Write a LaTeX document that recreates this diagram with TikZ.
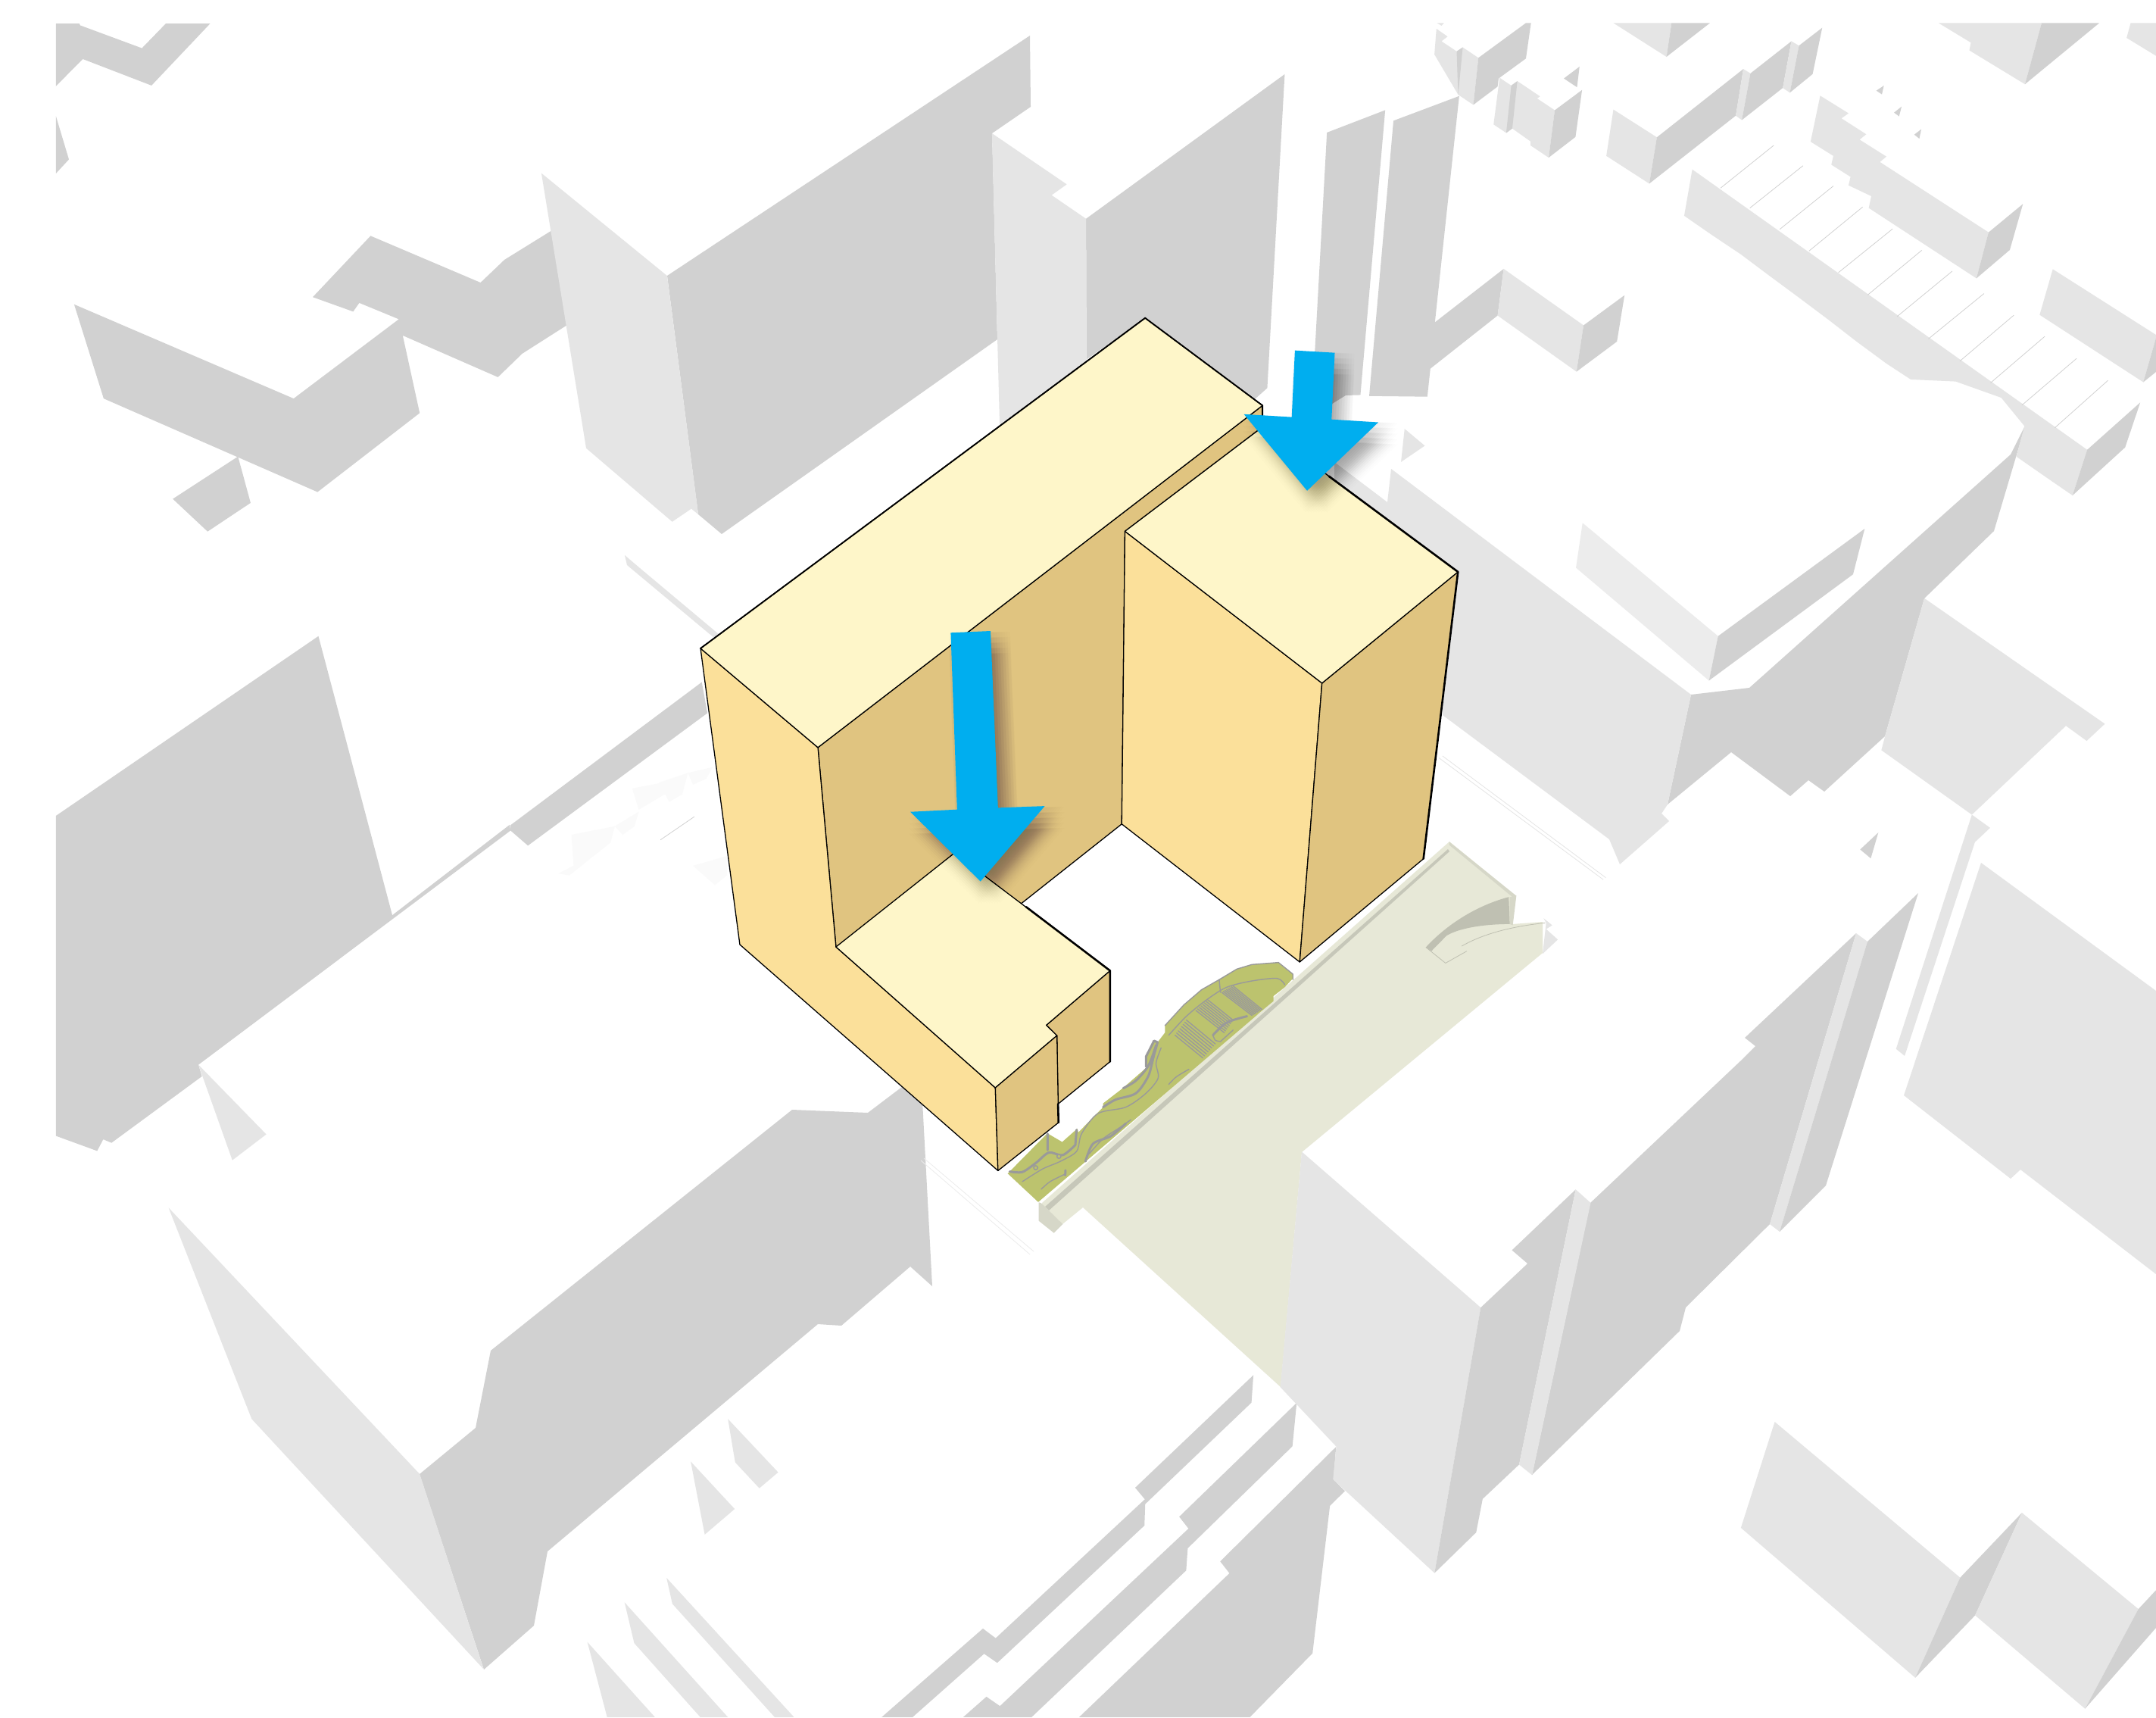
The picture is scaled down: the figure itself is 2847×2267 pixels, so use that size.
\documentclass[tikz,border=0pt]{standalone}
\definecolor{gd}{HTML}{D1D1D1}
\definecolor{gl}{HTML}{E5E5E5}
\definecolor{gll}{HTML}{ECECEC}
\definecolor{gf}{HTML}{FAFAFA}
\definecolor{roof}{HTML}{FEF6C9}
\definecolor{front}{HTML}{FBE09A}
\definecolor{side}{HTML}{E0C480}
\definecolor{plaza}{HTML}{E7E8D7}
\definecolor{pwall}{HTML}{D6D7C8}
\definecolor{pband}{HTML}{C6C7B9}
\definecolor{pcurve}{HTML}{BFC0B2}
\definecolor{green}{HTML}{BCC36E}
\definecolor{gline}{HTML}{9A9A9A}
\definecolor{arrowblue}{HTML}{00AEEF}
\tikzset{
  full/.style={x=.1mm,y=-.1mm},
  ztwo/.style={shift={(180mm,0mm)},x=.06677mm,y=-.04464mm},
  zthree/.style={shift={(6mm,0mm)},x=.05740mm,y=-.04783mm},
  zfour/.style={shift={(6mm,-75mm)},x=.05740mm,y=-.05102mm},
  zfive/.style={shift={(6mm,-150mm)},x=.06378mm,y=-.04892mm},
  zsix/.style={shift={(95mm,0mm)},x=.06059mm,y=-.05102mm},
  zseven/.style={shift={(180mm,-60mm)},x=.06677mm,y=-.05102mm},
  zeight/.style={shift={(150mm,-140mm)},x=.08591mm,y=-.05529mm},
  znine/.style={shift={(85mm,-38mm)},x=.07015mm,y=-.07653mm},
  zten/.style={shift={(130mm,-115mm)},x=.03333mm,y=-.03333mm},
  zeleven/.style={shift={(100mm,-178mm)},x=.05102mm,y=-.03333mm},
  ztwelve/.style={shift={(135mm,-150mm)},x=.03333mm,y=-.03333mm},
  bface/.style={draw=black,line width=.13mm,line join=round},
  bheavy/.style={draw=black,line width=.26mm,line join=round,line cap=round},
  gthin/.style={draw=gline,line width=.14mm,line cap=round,line join=round},
  gthick/.style={draw=gline,line width=.3mm,line cap=round,line join=round},
  fthin/.style={draw=gl,line width=.08mm},
  shad/.style={fill=black,opacity=.006},
}
\newcommand\gp[2]{\fill[#1] plot coordinates {#2} -- cycle;}
\begin{document}
\begin{tikzpicture}
\begin{scope}[full]
  \useasboundingbox (0,0) rectangle (2847,2267);
  \fill[white] (0,0) rectangle (2847,2267);
  % large pieces given in full-size coordinates
  \gp{gd}{(881,364)(1360,47)(1361,141)(1310,176)(1317,448)(953,705)(922,679)}
  \gp{gl}{(825,733)(845,750)(950,838)(943,842)(828,746)}
  \gp{gd}{(1046,1465)(1146,1469)(1216,1416)(1231,1698)(1202,1672)(1111,1750)(1080,1748)(723,2048)(705,2146)(639,2204)(554,1946)(628,1885)(648,1783)}
  \gp{gd}{(2233,917)(2310,908)(2655,600)(2674,562)(2663,600)(2633,701)(2541,790)(2489,972)(2409,1045)(2388,1030)(2364,1051)(2286,993)(2202,1062)}
  \gp{gl}{(1837,619)(2233,917)(2202,1062)(2194,1074)(2204,1084)(2139,1141)(2125,1108)(1905,944)(1900,760)(1762,650)(1762,610)(1832,663)}
  \gp{gd}{(2100,1588)(2299,1400)(2318,1381)(2304,1370)(2451,1232)(2401,1400)(2337,1616)(2226,1726)(2218,1757)(2023,1947)}
  \gp{gl}{(2451,1232)(2466,1243)(2350,1626)(2337,1616)}
  \gp{gd}{(2466,1243)(2533,1179)(2411,1565)(2350,1626)}
  \gp{gl}{(2616,1139)(2847,1308)(2847,1682)(2668,1544)(2655,1556)(2514,1446)}
\end{scope}
\begin{scope}[ztwo]
  \gp{gl}{(145,85)(167,108)(155,122)(185,152)(197,140)(228,171)(218,310)(188,280)(141,161)}
  \gp{gd}{(185,152)(197,140)(188,280)}
  \gp{gd}{(228,171)(322,68)(332,68)(322,173)(268,232)(266,256)(218,310)}
  \gp{gl}{(270,230)(293,253)(305,240)(350,285)(344,291)(379,326)(367,466)(331,430)(331,418)(295,380)(283,393)(258,368)}
  \gp{gd}{(293,253)(305,240)(295,380)(283,393)}
  \gp{gd}{(379,326)(433,266)(420,405)(367,466)}
  \gp{gd}{(397,232)(428,197)(423,258)}
  \gp{gl}{(146,68)(160,68)(155,76)}
  \gp{gl}{(495,68)(610,68)(600,168)}
  \gp{gd}{(610,68)(686,68)(600,168)}
  \gp{gl}{(495,324)(581,406)(566,543)(481,461)}
  \gp{gd}{(581,406)(752,204)(737,342)(566,543)}
  \gp{gl}{(752,204)(766,217)(749,355)(737,342)}
  \gp{gd}{(766,217)(847,122)(830,260)(749,355)}
  \gp{gl}{(847,122)(862,135)(844,274)(830,260)}
  \gp{gd}{(862,135)(908,82)(889,219)(844,274)}
  \gp{gl}{(1138,68)(1342,68)(1309,249)(1199,149)(1202,126)}
  \gp{gd}{(1342,68)(1456,68)(1309,249)}
  \gp{gl}{(1518,68)(1568,68)(1568,165)(1510,112)}
  \gp{gd}{(1015,268)(1030,253)(1026,279)}
  \gp{gd}{(1050,333)(1065,315)(1060,344)}
  \gp{gd}{(1090,398)(1104,382)(1100,410)}
  \gp{gl}{(904,283)(960,335)(946,350)(995,397)(982,413)(1035,463)(1022,479)(1237,687)(1213,823)(1000,615)(1005,580)(960,548)(964,523)(926,487)(930,461)(885,419)}
  \gp{gd}{(1237,687)(1305,603)(1279,739)(1213,823)}
  \gp{gl}{(651,501)(1432,1330)(1403,1465)(1340,1400)(1292,1350)(1308,1260)(1262,1176)(1172,1128)(1083,1122)(1035,1075)(976,1010)(920,945)(862,880)(805,817)(747,752)(690,695)(635,638)}
  \gp{gd}{(1432,1330)(1537,1190)(1507,1323)(1403,1465)}
  \gp{gl}{(1364,796)(1568,990)(1568,1000)(1543,1130)(1338,931)}
  \gp{gd}{(1568,1000)(1543,1130)(1568,1100)}
  \gp{gl}{(82,1268)(122,1318)(75,1366)}
  \draw[draw=gd,line width=.08mm] (707,556)--(812,430) (765,615)--(870,490) (824,678)--(930,550) (882,742)--(988,612) (940,806)--(1047,677) (998,872)--(1105,740) (1056,936)--(1165,802) (1118,1002)--(1228,868) (1180,1068)--(1287,932) (1241,1132)--(1348,995) (1303,1198)--(1411,1060) (1368,1265)--(1473,1125);
  \gp{gd}{(60,357)(190,284)(142,953)(278,795)(266,933)(133,1090)(127,1173)(12,1171)}
  \gp{gl}{(278,795)(436,962)(422,1099)(266,933)}
  \gp{gd}{(436,962)(517,873)(502,1010)(422,1099)}
\end{scope}
\begin{scope}[zthree]
  \gp{gd}{(24,65)(78,65)(80,70)(222,133)(277,65)(379,65)(244,236)(86,163)(24,238)}
  \gp{gd}{(24,320)(54,440)(24,479)}
  \gp{gd}{(66,840)(134,1100)(626,1358)(861,1140)(822,926)(1041,1041)(1097,976)(1199,898)(1165,636)(1056,717)(1001,780)(748,651)(615,820)(708,860)(722,836)(813,881)(571,1100)}
  \gp{gd}{(293,1377)(443,1260)(472,1388)(373,1467)}
  \gp{gl}{(1141,478)(1430,761)(1502,1420)(1486,1404)(1442,1440)(1244,1237)}
\end{scope}
\begin{scope}[zfour]
  \gp{gd}{(24,641)(628,176)(798,898)(1068,664)(1070,679)(352,1285)(360,1315)(152,1487)(133,1478)(119,1508)(24,1469)}
  \gp{gd}{(1070,665)(1510,295)(1523,375)(1110,718)(1070,679)}
  \gp{gl}{(352,1285)(508,1465)(430,1532)}
  \gp{gf}{(1210,690)(1310,668)(1300,710)(1205,795)(1180,790)(1215,770)}
  \gp{gf}{(1310,668)(1365,630)(1355,668)(1328,690)}
  \gp{gf}{(1350,570)(1420,555)(1425,585)(1365,625)}
  \gp{gf}{(1412,555)(1478,530)(1465,585)(1435,605)}
  \gp{gf}{(1478,530)(1535,515)(1520,545)(1490,560)}
  \gp{gf}{(1490,770)(1568,745)(1568,795)(1540,820)}
  \draw[draw=gd,line width=.08mm] (1415,703)--(1493,643);
\end{scope}
\begin{scope}[zsix]
  \gp{gd}{(799,566)(1232,192)(1194,1004)(1160,1040)(930,822)(800,930)}
  \gp{gl}{(594,345)(757,477)(724,505)(799,566)(800,950)(611,1110)}
  \gp{gd}{(1324,343)(1451,285)(1397,1022)(1365,1023)(1335,1045)(1290,1075)}
\end{scope}
\begin{scope}[zfive]
  \gp{gl}{(255,193)(775,912)(907,1438)(427,763)}
  \gp{gl}{(1413,763)(1517,907)(1478,950)(1428,880)}
  \gp{gl}{(1336,878)(1427,1006)(1365,1075)}
  \gp{gl}{(1286,1192)(1298,1262)(1510,1568)(1550,1568)}
  \gp{gl}{(1199,1258)(1219,1368)(1356,1568)(1413,1568)}
  \gp{gl}{(1122,1365)(1163,1568)(1262,1568)}
\end{scope}
\begin{scope}[zseven]
  \gp{gll}{(434,177)(702,470)(684,585)(421,293)}
  \gp{gd}{(702,470)(992,192)(969,310)(684,585)}
  \gp{gl}{(1110,372)(1467,697)(1431,741)(1390,702)(1204,932)(1025,765)(1032,730)}
  \gp{gl}{(1204,932)(1240,966)(1210,1003)(1071,1556)(1054,1538)}
  \gp{gd}{(983,1022)(1019,978)(1004,1045)}
  \gp{gl}{(357,1200)(374,1218)(362,1228)(385,1255)(355,1292)(362,1212)}
  \draw[fthin] (150,785)--(475,1100) (157,780)--(480,1095);
\end{scope}
\begin{scope}[full]
  \draw[draw=gll,line width=.08mm] (1220,1529)--(1365,1652) (1216,1532)--(1360,1656);
\end{scope}
\begin{scope}[zeleven]
  \gp{gd}{(1284,106)(1279,215)(1004,617)(1002,702)(621,1246)(587,1210)(402,1461)(322,1461)(584,1110)(617,1148)(1003,598)(978,552)}
  \gp{gd}{(1396,216)(1385,388)(1114,792)(1110,880)(710,1461)(533,1461)(593,1380)(628,1417)(1116,714)(1092,667)}
  \gp{gd}{(1498,390)(1491,520)(1521,565)(1482,624)(1437,1208)(1275,1461)(833,1461)(1222,891)(1198,844)}
\end{scope}
% plaza
\begin{scope}[full]
  \gp{plaza}{(1376,1588)(1914,1111)(2002,1183)(1997,1220)(2037,1217)(2037,1258)(1719,1521)(1691,1831)(1430,1594)(1403,1616)(1376,1590)}
  \gp{pband}{(1380,1593)(1912,1121)(1914,1124)(1385,1598)}
\end{scope}
\begin{scope}[zeight]
  \gp{gl}{(255,218)(530,590)(459,1224)(303,1000)(308,922)(222,780)}
  \gp{gd}{(530,590)(602,485)(578,453)(676,308)(589,965)(533,1047)(523,1127)(459,1224)}
  \gp{gl}{(676,308)(699,340)(609,990)(589,965)}
  \gp{gl}{(930,1116)(982,863)(1267,1235)(1198,1474)}
  \gp{gd}{(1267,1235)(1362,1080)(1290,1325)(1198,1474)}
  \gp{gl}{(1362,1080)(1541,1310)(1459,1548)(1290,1325)}
  \gp{gd}{(1541,1310)(1568,1265)(1568,1355)(1459,1548)}
\end{scope}
\begin{scope}[ztwelve]
  \gp{pwall}{(65,262)(65,335)(125,383)(160,348)(75,265)}
\end{scope}
\begin{scope}[zseven]
  \gp{pwall}{(170,1002)(303,1142)(300,1150)(170,1010)}
  \gp{pwall}{(290,1145)(303,1142)(296,1218)(290,1215)}
  \fill[pcurve] (124,1275) .. controls (170,1210) and (230,1165) .. (288,1145) -- (290,1215) .. controls (240,1215) and (190,1225) .. (165,1245) -- (135,1285) -- cycle;
  \draw[draw=pcurve,line width=.08mm] (124,1275)--(163,1316)--(205,1285);
  \draw[draw=pcurve,line width=.08mm] (195,1272) .. controls (240,1238) and (300,1220) .. (360,1212);
\end{scope}
% green garden
\begin{scope}[zten]
  \gp{green}{(92,1198)(245,1043)(248,1038)(308,1073)(368,1020)(372,1035)(470,935)(470,920)(548,860)(640,780)(638,735)(672,672)(686,678)(715,640)(715,612)(790,530)(860,470)(930,430)(1000,388)(1060,370)(1165,362)(1222,408)(1222,425)(1190,460)(1145,495)(1145,515)(1085,565)(1080,570)(213,1311)}
  \draw[gthin] (715,612)--(790,530)--(860,470)--(930,430)--(1000,388)--(1060,370)--(1165,362)--(1222,408)--(1222,430);
  \draw[gthin] (930,430)--(935,480);
  \draw[gthin] plot[smooth] coordinates {(730,650)(800,575)(880,510)(960,460)(1060,435)(1160,425)(1190,450)};
  \draw[gthick] plot[smooth] coordinates {(100,1190)(150,1192)(205,1155)(255,1115)(310,1125)(360,1085)};
  \draw[gthin] plot[smooth] coordinates {(150,1230)(230,1180)(300,1150)(365,1110)(385,1040)(450,960)(560,935)(640,880)(688,820)(680,760)(700,700)};
  \draw[gthin] plot[smooth] coordinates {(225,1260)(260,1230)(320,1200)};
  \draw[gthick] (320,1205)--(321,1185);
  \draw[gthick] plot[smooth] coordinates {(400,1150)(430,1080)(500,1050)(560,1000)};
  \draw[gthin] plot[smooth] coordinates {(415,1120)(470,1060)(530,1020)(580,985)};
  \draw[gthick] plot[smooth] coordinates {(470,935)(520,905)(600,880)(650,810)(670,730)};
  \draw[gthick] plot[smooth] coordinates {(550,860)(600,830)(650,770)(680,690)};
  \draw[gthin] plot[smooth] coordinates {(730,845)(760,815)(810,785)};
  \draw[gthick] (250,1040)--(250,1105) (365,1025)--(360,1085) (640,775)--(640,735)--(672,672)--(686,678)--(660,770);
  \draw[gthick] plot[smooth] coordinates {(905,650)(960,600)(1040,575)};
  \draw[gthin] plot[smooth] coordinates {(935,675)(915,670)(905,650)};
  \draw[gthin] (935,675)--(985,630);
  \foreach \i in {0,...,7}{
    \draw[gthin] ({755+\i*6.4},{650-\i*8.6}) -- ({865+\i*7.1},{740-\i*7.9});
    \draw[gthin] ({838+\i*6.7},{552-\i*6}) -- ({950+\i*5},{640-\i*7.1});
    \draw[gthin] ({940+\i*6.4},{480-\i*3.6}) -- ({1060+\i*5.7},{572-\i*3.4});
  }
  \fill[green,draw=gline,line width=.15mm] (203,1175) circle (8);
  \fill[green,draw=gline,line width=.15mm] (295,1130) circle (8);
\end{scope}
% proposed massing
\begin{scope}[znine]
  \filldraw[bface,fill=side] plot coordinates {(328,793)(1165,203)(1165,240)(906,420)(900,925)(700,1070)(362,1137)} -- cycle;
  \filldraw[bface,fill=front] plot coordinates {(107,622)(328,793)(362,1137)(662,1380)(667,1523)(181,1133)} -- cycle;
  \filldraw[bface,fill=roof] plot coordinates {(107,622)(944,52)(1165,203)(328,793)} -- cycle;
  \filldraw[bface,fill=side] plot coordinates {(758,1272)(878,1178)(878,1335)(780,1408)(778,1290)} -- cycle;
  \filldraw[bface,fill=roof] plot coordinates {(362,1137)(585,975)(878,1178)(758,1272)(778,1290)(662,1380)} -- cycle;
  \filldraw[bface,fill=side] plot coordinates {(662,1380)(778,1290)(781,1440)(667,1523)} -- cycle;
  \filldraw[bface,fill=front] plot coordinates {(906,420)(1277,682)(1235,1163)(900,925)} -- cycle;
  \filldraw[bface,fill=side] plot coordinates {(1277,682)(1533,490)(1468,985)(1235,1163)} -- cycle;
  \filldraw[bface,fill=roof] plot coordinates {(906,420)(1165,240)(1533,490)(1277,682)} -- cycle;
  \draw[bheavy] (720,1068)--(878,1178)--(878,1335) (780,1408)--(781,1440) (1290,325)--(1533,490)--(1468,985);
  \draw[draw=black,line width=.19mm,line cap=round] (107,622)--(944,52)--(1165,203)--(1165,240);
  % arrows: soft shadows made of many faint shifted copies, then the arrows
  \foreach \dx in {-1.4,-1.05,-.7,-.35,0,.35,.7,1.05,1.4}{
    \foreach \dy in {-1.4,-.7,0,.7,1.4}{
      \begin{scope}[xshift={(1.2+\dx)*1mm},yshift={(-1.5+\dy)*1mm}]
        \gp{shad}{(578,595)(653,592)(667,897)(755,894)(634,1024)(502,904)(590,900)}
        \gp{shad}{(1226,108)(1301,112)(1295,227)(1383,232)(1249,350)(1130,218)(1220,223)}
      \end{scope}
    }
  }
  \fill[arrowblue] plot coordinates {(578,595)(653,592)(667,897)(755,894)(634,1024)(502,904)(590,900)} -- cycle;
  \fill[arrowblue] plot coordinates {(1226,108)(1301,112)(1295,227)(1383,232)(1249,350)(1130,218)(1220,223)} -- cycle;
\end{scope}
\begin{scope}[zseven]
  \draw[draw=black,line width=.08mm] (128,945)--(119,1048);
\end{scope}
\end{tikzpicture}
\end{document}
